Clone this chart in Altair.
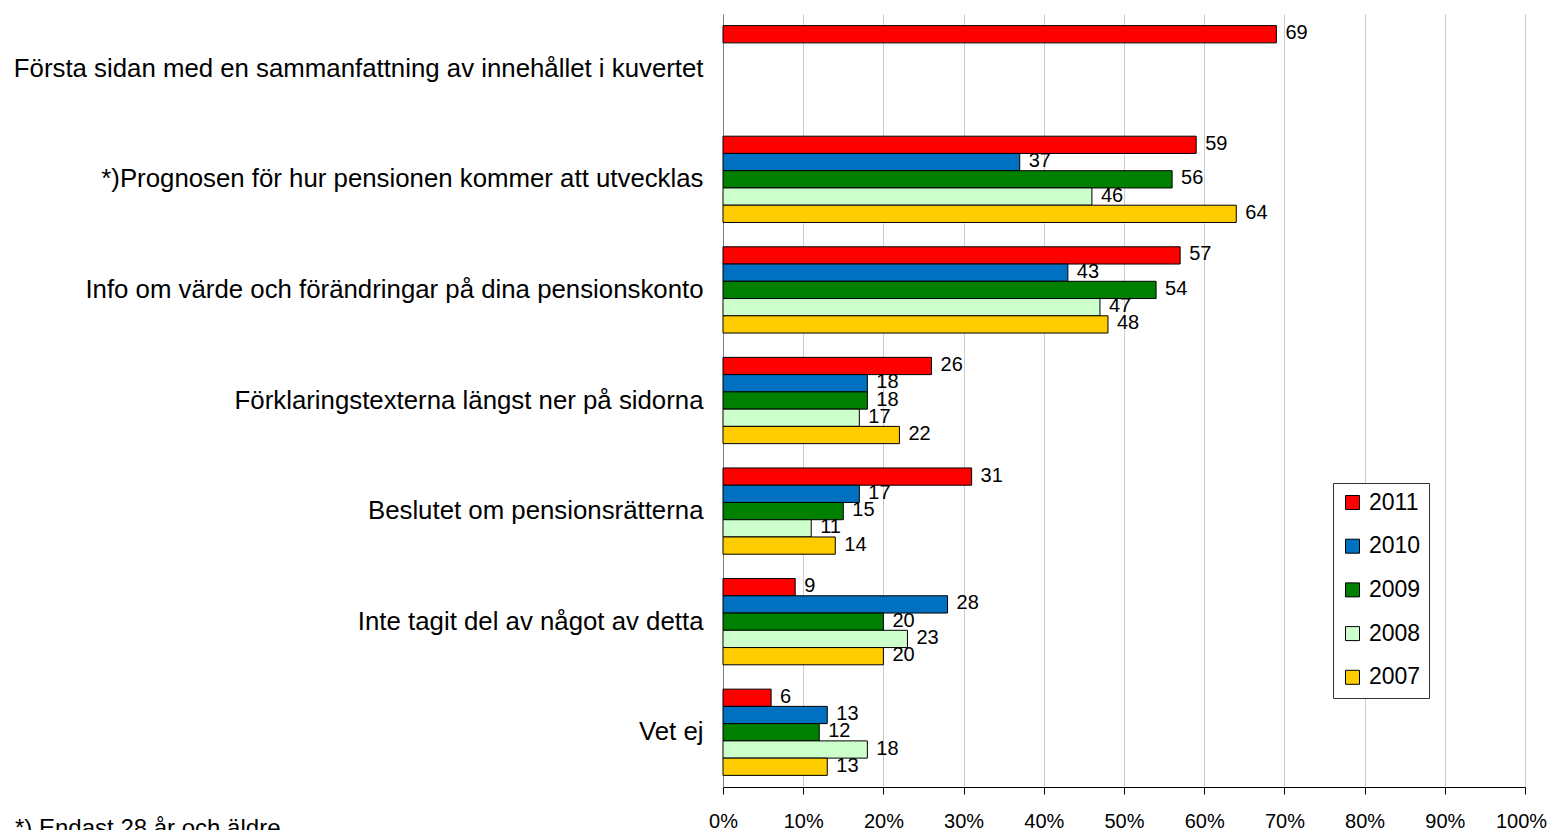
import altair as alt
import pandas as pd

categories = [
    "Första sidan med en sammanfattning av innehållet i kuvertet",
    "*)Prognosen för hur pensionen kommer att utvecklas",
    "Info om värde och förändringar på dina pensionskonto",
    "Förklaringstexterna längst ner på sidorna",
    "Beslutet om pensionsrätterna",
    "Inte tagit del av något av detta",
    "Vet ej",
]
years = ["2011", "2010", "2009", "2008", "2007"]
v2011 = [69, 59, 57, 26, 31, 9, 6]
v2010 = [None, 37, 43, 18, 17, 28, 13]
v2009 = [None, 56, 54, 18, 15, 20, 12]
v2008 = [None, 46, 47, 17, 11, 23, 18]
v2007 = [None, 64, 48, 22, 14, 20, 13]
colors = ["#FF0000", "#0070C0", "#008000", "#CCFFCC", "#FFCC00"]
footnote = ["*) Endast 28 år och äldre"]

series = {"2011": v2011, "2010": v2010, "2009": v2009, "2008": v2008, "2007": v2007}
rows = []
for y in years:
    for c, v in zip(categories, series[y]):
        if v is not None:
            rows.append({"cat": c, "year": y, "value": v})
df = pd.DataFrame(rows)

FONT = "Liberation Sans"

base = alt.Chart(df).encode(
    y=alt.Y(
        "cat:N",
        sort=categories,
        title=None,
        scale=alt.Scale(paddingInner=0.22, paddingOuter=0.105),
        axis=alt.Axis(
            labelFontSize=25.8,
            labelFont=FONT,
            labelColor="black",
            labelPadding=20,
            labelLimit=900,
            ticks=False,
            domainColor="#808080",
            domainWidth=1,
        ),
    ),
    yOffset=alt.YOffset("year:N", sort=years, scale=alt.Scale(paddingInner=0, paddingOuter=0)),
    x=alt.X(
        "value:Q",
        title=None,
        scale=alt.Scale(domain=[0, 100], nice=False),
        axis=alt.Axis(
            values=list(range(0, 101, 10)),
            labelExpr="datum.value + '%'",
            labelFontSize=20,
            labelFont=FONT,
            labelColor="black",
            labelPadding=17,
            labelFlush=False,
            labelOffset={"condition": {"test": "datum.value == 100", "value": -4}, "value": 0},
            tickSize=7,
            tickColor="black",
            domainColor="black",
            gridColor="#CCCCCC",
            grid=True,
        ),
    ),
)

bars = base.mark_bar(stroke="black", strokeWidth=1).encode(
    color=alt.Color(
        "year:N",
        sort=years,
        scale=alt.Scale(domain=years, range=colors),
        legend=alt.Legend(
            title=None,
            orient="none",
            legendX=610,
            legendY=469,
            symbolType="square",
            symbolSize=196,
            symbolStrokeColor="black",
            symbolStrokeWidth=1,
            labelFontSize=23,
            labelFont=FONT,
            labelColor="black",
            labelOffset=5,
            rowPadding=19.7,
            padding=8,
            strokeColor="#333333",
            fillColor="white",
        ),
    )
)

labels = base.mark_text(
    align="left", baseline="middle", dx=9, dy=-1, fontSize=20, font=FONT, color="black"
).encode(text=alt.Text("value:Q"))

foot = alt.Chart(pd.DataFrame({"t": footnote})).mark_text(
    align="left", baseline="alphabetic", fontSize=24, font=FONT, color="black"
).encode(text="t:N", x=alt.value(-708), y=alt.value(822))

chart = (
    alt.layer(bars, labels, foot)
    .properties(
        width=802,
        height=773,
        autosize=alt.AutoSizeParams(type="none"),
        padding={"left": 715, "top": 6, "right": 22, "bottom": 50},
        background="white",
    )
    .configure_view(stroke=None)
)

chart.save("out.html", embed_options={"renderer": "svg", "actions": False})
